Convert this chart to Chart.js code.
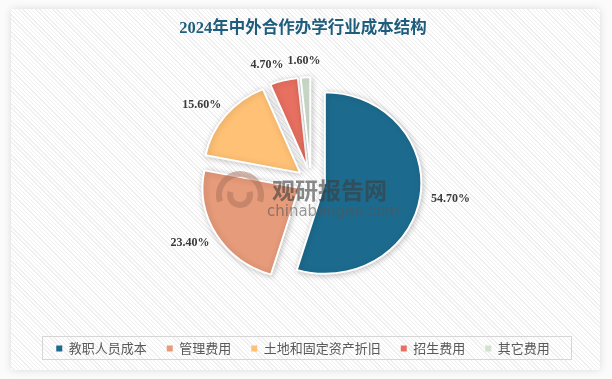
<!DOCTYPE html>
<html>
<head>
<meta charset="utf-8">
<script src="https://cdn.jsdelivr.net/npm/chart.js@4/dist/chart.umd.min.js"></script>
<style>
  html, body { margin: 0; padding: 0; background: #fbfbfb; width: 612px; height: 379px; overflow: hidden; }
  .frame { position: absolute; left: 11px; top: 9px; width: 589px; height: 361px;
    background: repeating-linear-gradient(45deg, #ffffff 0px, #ffffff 2px, #efefef 2px, #efefef 3px);
    box-shadow: 0 0 8px rgba(0,0,0,0.13); }
  canvas { position: absolute; left: 0; top: 0; }
</style>
</head>
<body>
<div class="frame"></div>
<canvas id="c" width="612" height="379"></canvas>
<script>
// ---- data ----
const titleText = '2024年中外合作办学行业成本结构';
const categories = ['教职人员成本', '管理费用', '土地和固定资产折旧', '招生费用', '其它费用'];
const shares = [54.7, 23.4, 15.6, 4.7, 1.6];
const shareLabels = ['54.70%', '23.40%', '15.60%', '4.70%', '1.60%'];
const sliceColors = ['#1C6B8E', '#E69B7A', '#FFC175', '#E87060', '#D2E2CF'];

// ---- layout / style constants ----
const SHIFT_X = 8;       // horizontal nudge of the pie
const SQUASH = 0.94;     // vertical squash of the pie (reference is slightly compressed)
const EXPLODE = 14;      // radial separation of every slice
const LABEL_GAP = 11;
const CJK = '"Noto Sans CJK SC", "Noto Sans", sans-serif';

const pieDecor = {
  id: 'pieDecor',
  beforeDatasetsDraw(chart) {
    const meta = chart.getDatasetMeta(0);
    const ctx = chart.ctx;
    const cy = meta.data[0].y;
    // slices, each pushed out along its mid angle
    ctx.save();
    ctx.translate(SHIFT_X, cy);
    ctx.scale(1, SQUASH);
    ctx.translate(0, -cy);
    ctx.shadowColor = 'rgba(0,0,0,0.22)';
    ctx.shadowBlur = 6;
    ctx.shadowOffsetX = 1;
    ctx.shadowOffsetY = 1;
    meta.data.forEach(arc => {
      const p = arc.getProps(['startAngle', 'endAngle'], true);
      const mid = (p.startAngle + p.endAngle) / 2;
      ctx.save();
      ctx.translate(Math.cos(mid) * EXPLODE, Math.sin(mid) * EXPLODE);
      arc.draw(ctx, chart.chartArea);
      ctx.restore();
    });
    ctx.restore();
    // value labels (outside end), with simple overlap avoidance
    ctx.save();
    ctx.font = 'bold 12px "Liberation Serif", "DejaVu Serif", serif';
    ctx.fillStyle = '#3a3a3a';
    ctx.textAlign = 'center';
    ctx.textBaseline = 'middle';
    const boxes = meta.data.map((arc, i) => {
      const p = arc.getProps(['x', 'y', 'startAngle', 'endAngle', 'outerRadius'], true);
      const mid = (p.startAngle + p.endAngle) / 2;
      const dx = Math.cos(mid), dy = Math.sin(mid);
      const r = p.outerRadius + EXPLODE + LABEL_GAP;
      const text = shareLabels[i];
      const w = ctx.measureText(text).width, h = 12;
      return { text, w, h,
        x: p.x + SHIFT_X + dx * r + dx * w / 2,
        y: p.y + SQUASH * dy * r + dy * h / 2 };
    });
    for (let i = boxes.length - 2; i >= 0; i--) {
      const a = boxes[i], b = boxes[i + 1];
      const overlapX = (a.w + b.w) / 2 + 4 - Math.abs(a.x - b.x);
      const overlapY = (a.h + b.h) / 2 - Math.abs(a.y - b.y);
      if (overlapX > 0 && overlapY > 0 && a.x < b.x) a.x -= overlapX;
    }
    boxes.forEach(b => ctx.fillText(b.text, b.x, b.y));
    ctx.restore();
    return false;
  },
  afterDraw(chart) {
    const ctx = chart.ctx;
    // legend frame
    ctx.save();
    ctx.strokeStyle = '#d6d6d6';
    ctx.lineWidth = 1;
    ctx.strokeRect(42.5, 336.5, 529, 23);
    ctx.restore();
    // watermark
    ctx.save();
    ctx.globalAlpha = 0.5;
    ctx.strokeStyle = '#a8705a';
    ctx.lineWidth = 6;
    ctx.beginPath(); ctx.arc(240, 195, 21, Math.PI * 0.9, Math.PI * 2.1); ctx.stroke();
    ctx.beginPath(); ctx.arc(240, 195, 10, Math.PI * -0.1, Math.PI * 1.1); ctx.stroke();
    ctx.globalAlpha = 0.6;
    ctx.fillStyle = '#3c3c3c';
    ctx.textAlign = 'left';
    ctx.textBaseline = 'middle';
    ctx.font = 'bold 23px ' + CJK;
    ctx.fillText('观研报告网', 272, 190);
    ctx.font = '15px "DejaVu Sans", sans-serif';
    ctx.fillStyle = '#555';
    ctx.fillText('chinabaogao.com', 267, 212);
    ctx.restore();
  }
};

new Chart(document.getElementById('c'), {
  type: 'pie',
  data: {
    labels: categories,
    datasets: [{
      data: shares,
      backgroundColor: sliceColors,
      borderColor: '#ffffff',
      borderWidth: 2,
      offset: 0,
      hoverOffset: 0
    }]
  },
  options: {
    responsive: false,
    animation: false,
    radius: 96.5,
    layout: { padding: { left: 0, right: 6, top: 0, bottom: 14 } },
    plugins: {
      title: {
        display: true,
        text: titleText,
        color: '#1f5d7c',
        font: { family: '"Liberation Serif", "Noto Sans CJK SC", serif', size: 16.5, weight: 'bold' },
        padding: { top: 18.5, bottom: 2 }
      },
      legend: {
        position: 'bottom',
        labels: {
          boxWidth: 6,
          boxHeight: 6,
          padding: 20,
          color: '#595959',
          font: { family: CJK, size: 13 },
          generateLabels(chart) {
            return Chart.overrides.pie.plugins.legend.labels.generateLabels(chart)
              .map(l => Object.assign(l, { lineWidth: 0, strokeStyle: l.fillStyle }));
          }
        }
      },
      tooltip: { enabled: false }
    }
  },
  plugins: [pieDecor]
});
</script>
</body>
</html>
